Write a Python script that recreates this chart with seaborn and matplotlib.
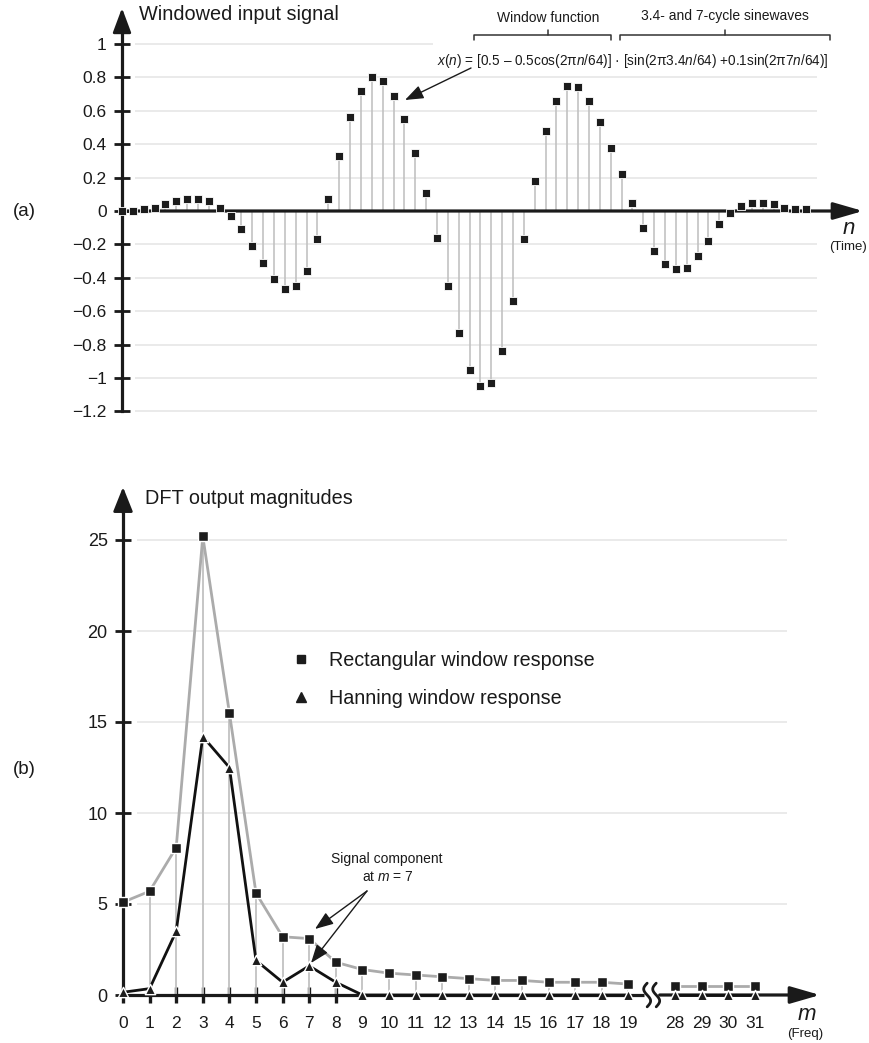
import numpy as np
import pandas as pd
import matplotlib
matplotlib.use("Agg")
import matplotlib.pyplot as plt
import seaborn as sns
from matplotlib.lines import Line2D

# ---------------- data ----------------
n_index = list(range(64))
x_n = [0.00, 0.00, 0.01, 0.02, 0.04, 0.06, 0.07, 0.07, 0.06, 0.02,
       -0.03, -0.11, -0.21, -0.31, -0.41, -0.47, -0.45, -0.36, -0.17, 0.07,
       0.33, 0.56, 0.72, 0.80, 0.78, 0.69, 0.55, 0.35, 0.11, -0.16,
       -0.45, -0.73, -0.95, -1.05, -1.03, -0.84, -0.54, -0.17, 0.18, 0.48,
       0.66, 0.75, 0.74, 0.66, 0.53, 0.38, 0.22, 0.05, -0.10, -0.24,
       -0.32, -0.35, -0.34, -0.27, -0.18, -0.08, -0.01, 0.03, 0.05, 0.05,
       0.04, 0.02, 0.01, 0.01]

m_labels = list(range(20)) + [28, 29, 30, 31]
rect_mag = [5.1, 5.7, 8.1, 25.2, 15.5, 5.6, 3.2, 3.1, 1.8, 1.4,
            1.2, 1.1, 1.0, 0.9, 0.8, 0.8, 0.7, 0.7, 0.7, 0.6,
            0.5, 0.5, 0.5, 0.5]
hann_mag = [0.15, 0.35, 3.5, 14.2, 12.5, 1.9, 0.7, 1.6, 0.7, 0.0,
            0.0, 0.0, 0.0, 0.0, 0.0, 0.0, 0.0, 0.0, 0.0, 0.0,
            0.0, 0.0, 0.0, 0.0]

yticks_a = [1.0, 0.8, 0.6, 0.4, 0.2, 0.0, -0.2, -0.4, -0.6, -0.8, -1.0, -1.2]
ylabels_a = ["1", "0.8", "0.6", "0.4", "0.2", "0", "\u22120.2", "\u22120.4",
             "\u22120.6", "\u22120.8", "\u22121", "\u22121.2"]
yticks_b = [0, 5, 10, 15, 20, 25]
legend_labels = ["Rectangular window response", "Hanning window response"]

# ---------------- style ----------------
sns.set_theme(style="white")
plt.rcParams["font.family"] = ["Liberation Sans", "DejaVu Sans"]
plt.rcParams["mathtext.fontset"] = "custom"
plt.rcParams["mathtext.rm"] = "Liberation Sans"
plt.rcParams["mathtext.it"] = "Liberation Sans:italic"

W, H = 869, 1043
fig = plt.figure(figsize=(W / 100, H / 100), dpi=100)
fig.patch.set_facecolor("white")

def add_px_axes(left, top, right, bottom):
    return fig.add_axes([left / W, 1 - bottom / H, (right - left) / W, (bottom - top) / H])

def ftext(x, y, s, **kw):
    fig.text(x / W, 1 - y / H, s, **kw)

def fline(xs, ys, **kw):
    fig.add_artist(Line2D([x / W for x in xs], [1 - y / H for y in ys],
                          transform=fig.transFigure, **kw))

GRID = "#e4e4e4"
STEM = "#c2c2c2"
MARK = "#1c1c1c"

# ================= panel (a) =================
X0a, DXa, Y0a, DYa = 122, 10.86, 211, 167.0
def pa(px, py):
    return ((px - X0a) / DXa, (Y0a - py) / DYa)

ax1 = add_px_axes(100, 0, 869, 425)
ax1.set_xlim((100 - X0a) / DXa, (869 - X0a) / DXa)
ax1.set_ylim((Y0a - 425) / DYa, (Y0a - 0) / DYa)
for s in ["top", "right", "bottom"]:
    ax1.spines[s].set_visible(False)
ax1.spines["left"].set_position(("data", 0))
ax1.spines["left"].set_linewidth(2.3)
ax1.spines["left"].set_color("#1a1a1a")
ax1.spines["left"].set_bounds(-1.2, 1.1)
ax1.set_facecolor("white")

# gridlines
for yv in yticks_a:
    if yv == 0:
        continue
    x_end = pa(433, 0)[0] if yv == 1.0 else pa(817, 0)[0]
    ax1.hlines(yv, pa(135, 0)[0], x_end, color=GRID, lw=1.1, zorder=0)

df_a = pd.DataFrame({"n": n_index, "x": x_n})
ax1.vlines(df_a["n"], 0, df_a["x"], color=STEM, lw=1.2, zorder=2)
# zero axis with arrow
ax1.annotate("", xy=(pa(863, 0)[0], 0), xytext=(0, 0),
             arrowprops=dict(arrowstyle="-|>,head_length=0.9,head_width=0.26",
                             mutation_scale=20, lw=2.3, color="#1a1a1a",
                             shrinkA=0, shrinkB=0), zorder=3)
sns.scatterplot(data=df_a, x="n", y="x", marker="s", s=40, color=MARK,
                edgecolor="white", linewidth=0.6, ax=ax1, zorder=5, legend=False)
# y-axis arrowhead
ax1.annotate("", xy=(0, pa(0, 8)[1]), xytext=(0, 1.08),
             arrowprops=dict(arrowstyle="-|>,head_length=0.75,head_width=0.28",
                             mutation_scale=20, lw=2.0, color="#1a1a1a",
                             shrinkA=0, shrinkB=0), zorder=3)

ax1.set_xticks([])
ax1.set_yticks(yticks_a, labels=ylabels_a)
ax1.tick_params(axis="y", direction="inout", length=11, width=2.0, pad=5.5,
                labelsize=12.5, colors="#1a1a1a", left=True)
ax1.set_xlabel("")
ax1.set_ylabel("")

# formula arrow
ax1.annotate("", xy=pa(405, 100), xytext=pa(471, 68),
             arrowprops=dict(arrowstyle="-|>,head_length=0.8,head_width=0.3",
                             mutation_scale=14, lw=1.0, color="#1a1a1a",
                             shrinkA=0, shrinkB=0))

ftext(139, 15, "Windowed input signal", fontsize=14.3, va="center", ha="left", color="#1a1a1a")
ftext(13, 211, "(a)", fontsize=13.5, va="center", ha="left", color="#1a1a1a")
ftext(849, 229, "$n$", fontsize=16, va="center", ha="center", color="#1a1a1a")
ftext(848, 247, "(Time)", fontsize=9.5, va="center", ha="center", color="#1a1a1a")
ftext(548, 18, "Window function", fontsize=10, va="center", ha="center", color="#1a1a1a")
ftext(725, 16, "3.4- and 7-cycle sinewaves", fontsize=10, va="center", ha="center", color="#1a1a1a")
fline([474, 474, 611, 611], [40, 35, 35, 40], color="#333333", lw=1.1)
fline([548, 548], [35, 30], color="#333333", lw=1.1)
fline([620, 620, 830, 830], [40, 35, 35, 40], color="#333333", lw=1.1)
fline([725, 725], [35, 30], color="#333333", lw=1.1)
formula = ("$x$($n$) = [0.5 \u2013 0.5cos(2\u03c0$n$/64)] \u00b7 "
           "[sin(2\u03c03.4$n$/64) +0.1sin(2\u03c07$n$/64)]")
ftext(633, 61, formula, fontsize=9.8, va="center", ha="center", color="#1a1a1a")

# ================= panel (b) =================
X0b, DXb, Y0b, DYb = 123, 26.6, 995, 18.2
BREAK_GAP = 0.75
def pb(px, py):
    return ((px - X0b) / DXb, (Y0b - py) / DYb)

pos = [i if m <= 19 else i + BREAK_GAP for i, m in enumerate(m_labels)]
seg = ["low" if m <= 19 else "high" for m in m_labels]
df_b = pd.DataFrame({"pos": pos, "m": m_labels, "rect": rect_mag,
                     "hann": hann_mag, "seg": seg})

ax2 = add_px_axes(100, 470, 869, 1043)
ax2.set_xlim((100 - X0b) / DXb, (869 - X0b) / DXb)
ax2.set_ylim((Y0b - 1043) / DYb, (Y0b - 470) / DYb)
for s in ["top", "right", "bottom"]:
    ax2.spines[s].set_visible(False)
ax2.spines["bottom"].set_position(("data", 0))
ax2.spines["left"].set_position(("data", 0))
ax2.spines["left"].set_linewidth(2.3)
ax2.spines["left"].set_color("#1a1a1a")
ax2.spines["left"].set_bounds(0, 26.6)
ax2.set_facecolor("white")

for yv in yticks_b[1:]:
    ax2.hlines(yv, pb(137, 0)[0], pb(787, 0)[0], color=GRID, lw=1.1, zorder=0)

ax2.vlines(df_b["pos"], 0, df_b["rect"], color=STEM, lw=1.3, zorder=1)

# x axis (broken) with arrow
brk = (pos[19] + pos[20]) / 2
ax2.plot([0, brk - 0.3], [0, 0], color="#1a1a1a", lw=2.3, zorder=3, solid_capstyle="butt")
ax2.annotate("", xy=(pb(820, 0)[0], 0), xytext=(brk + 0.3, 0),
             arrowprops=dict(arrowstyle="-|>,head_length=0.9,head_width=0.26",
                             mutation_scale=20, lw=2.3, color="#1a1a1a",
                             shrinkA=0, shrinkB=0), zorder=3)
tt = np.linspace(-1, 1, 40)
for off in (-0.17, 0.17):
    ax2.plot(brk + off + 0.13 * np.sin(tt * np.pi), -tt * 0.65, color="#1a1a1a",
             lw=2.0, zorder=4, solid_capstyle="round")

sns.lineplot(data=df_b, x="pos", y="rect", units="seg", estimator=None,
             color="#ababab", lw=2.0, ax=ax2, zorder=2, legend=False)
sns.lineplot(data=df_b, x="pos", y="hann", units="seg", estimator=None,
             color="#111111", lw=2.0, ax=ax2, zorder=4, legend=False)
sns.scatterplot(data=df_b, x="pos", y="rect", marker="s", s=55, color=MARK,
                edgecolor="white", linewidth=1.0, ax=ax2, zorder=6, legend=False)
sns.scatterplot(data=df_b, x="pos", y="hann", marker="^", s=55, color=MARK,
                edgecolor="white", linewidth=1.0, ax=ax2, zorder=6, legend=False)

# y arrowhead
ax2.annotate("", xy=(0, pb(0, 487)[1]), xytext=(0, 26.5),
             arrowprops=dict(arrowstyle="-|>,head_length=0.75,head_width=0.3",
                             mutation_scale=20, lw=2.0, color="#1a1a1a",
                             shrinkA=0, shrinkB=0), zorder=3)

ax2.set_yticks(yticks_b, labels=[str(v) for v in yticks_b])
ax2.tick_params(axis="y", direction="inout", length=11, width=2.0, pad=5.5,
                labelsize=13, colors="#1a1a1a", left=True)
ax2.set_xticks(pos[:9], labels=[str(m) for m in m_labels[:9]])
ax2.set_xticks(pos[9:], labels=[str(m) for m in m_labels[9:]], minor=True)
ax2.tick_params(axis="x", which="major", direction="inout", length=12, width=2.4,
                pad=9, labelsize=12.5, colors="#1a1a1a", bottom=True)
ax2.tick_params(axis="x", which="minor", length=0, pad=15, labelsize=12.5,
                colors="#1a1a1a", bottom=True)
ax2.set_xlabel("")
ax2.set_ylabel("")

# legend
handles = [Line2D([], [], marker="s", ls="", color=MARK, markersize=5.5),
           Line2D([], [], marker="^", ls="", color=MARK, markersize=6.5)]
ax2.legend(handles=handles, labels=legend_labels, frameon=False, loc="upper left",
           bbox_to_anchor=(291 / W, 1 - 651 / H), bbox_transform=fig.transFigure,
           fontsize=14.2, handlelength=1.0, handletextpad=0.95, labelspacing=0.95,
           borderpad=0, borderaxespad=0, labelcolor="#1a1a1a")

# signal component annotation
for tip in (pb(315, 929), pb(311, 963)):
    ax2.annotate("", xy=tip, xytext=pb(367, 891),
                 arrowprops=dict(arrowstyle="-|>,head_length=0.8,head_width=0.3",
                                 mutation_scale=14, lw=1.0, color="#1a1a1a",
                                 shrinkA=0, shrinkB=0), zorder=7)
ftext(387, 859, "Signal component", fontsize=10, ha="center", va="center", color="#1a1a1a")
ftext(388, 877, "at $m$ = 7", fontsize=10, ha="center", va="center", color="#1a1a1a")

ftext(145, 498, "DFT output magnitudes", fontsize=14.3, va="center", ha="left", color="#1a1a1a")
ftext(13, 769, "(b)", fontsize=13.5, va="center", ha="left", color="#1a1a1a")
ftext(807, 1015, "$m$", fontsize=16, va="center", ha="center", color="#1a1a1a")
ftext(805, 1034, "(Freq)", fontsize=9.5, va="center", ha="center", color="#1a1a1a")

fig.savefig("out.png", dpi=100, facecolor="white")
